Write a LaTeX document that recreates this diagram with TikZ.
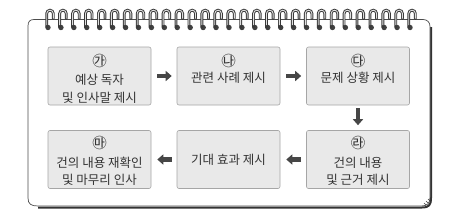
\documentclass[tikz,border=0pt]{standalone}
\usepackage{fontspec}
\setmainfont{Noto Sans CJK KR}
\usetikzlibrary{arrows.meta, positioning}

\begin{document}
\begin{tikzpicture}[x=1pt, y=-1pt,
  stage/.style={draw=gray!70, fill=gray!17, rounded corners=2pt, line width=0.6pt,
    minimum width=103pt, minimum height=58pt},
  caption/.style={align=center, text=black!80, inner sep=0pt, font=\fontsize{12.5}{17.5}\selectfont},
  tag/.style={text=black!80, inner sep=0pt, font=\fontsize{14.5}{15}\selectfont},
  flow/.style={draw=gray!55!black, line width=4.5pt, -{Triangle[length=6pt,width=10pt]}},
  ringline/.style={line width=2.8pt, gray!45!black, line cap=round}]
  \useasboundingbox (0,0) rectangle (452,218);
  % --- notebook page ---
  \draw[line width=2pt, gray!40!black] (431,27) -- (431,198) .. controls (431,205) and (429,207.5) .. (422,207.5) -- (38,207.5);
  \draw[line width=0.7pt, gray!60!black, fill=white] (28,198) -- (28,26) .. controls (28,21.5) and (30,19.5) .. (34,19.5)
    -- (423,19.5) .. controls (427,19.5) and (430,22) .. (430,26.5) -- (430,197)
    .. controls (430,203.5) and (427.5,206) .. (421,206) -- (38,206) .. controls (31,206) and (28,204) .. (28,198);
  % page curl
  \foreach \d in {0,2,4}
    \draw[gray!50!black, line width=0.5pt] (428-\d,199+\d) -- (430-\d,201+\d);
  % --- spiral rings ---
  \foreach \i in {0,...,28}{
    \pgfmathsetmacro\cx{48+12.93*\i}
    \fill[black!75] (\cx,27.5) circle[radius=2.7];
    \draw[ringline] (\cx-1.3,27) -- (\cx-1.3,13.5) arc[start angle=180, end angle=360, radius=3.3] -- (\cx+5.3,18.5);
    \draw[gray!25, line width=0.9pt] (\cx-1.3,25) -- (\cx-1.3,13.5) arc[start angle=180, end angle=360, radius=3.3] -- (\cx+5.3,18.5);
  }
  % --- stages ---
  \node[stage] (s1) at (99.5,76) {};
  \node[stage] (s2) at (228.5,76) {};
  \node[stage] (s3) at (358,76) {};
  \node[stage] (s4) at (358,159.5) {};
  \node[stage] (s5) at (228.5,159.5) {};
  \node[stage] (s6) at (99.5,159.5) {};
  % tags and texts
  \node[tag] (t1) at ([yshift=-14pt]s1.north) {㉮};
  \node[tag] (t2) at ([yshift=-14pt]s2.north) {㉯};
  \node[tag] (t3) at ([yshift=-14pt]s3.north) {㉰};
  \node[tag] (t4) at ([yshift=-13pt]s4.north) {㉱};
  \node[tag] (t6) at ([yshift=-13pt]s6.north) {㉲};
  \node[caption] (c1) at ([yshift=-13pt]s1.center) {예상 독자\\및 인사말 제시};
  \node[caption] (c2) at ([yshift=-1.5pt]s2.center) {관련 사례 제시};
  \node[caption] (c3) at ([yshift=-1.5pt]s3.center) {문제 상황 제시};
  \node[caption] (c4) at ([yshift=-12pt]s4.center) {건의 내용\\및 근거 제시};
  \node[caption] (c5) at (s5.center) {기대 효과 제시};
  \node[caption] (c6) at ([yshift=-12pt]s6.center) {건의 내용 재확인\\및 마무리 인사};
  % --- flow ---
  \draw[flow, shorten <=6pt, shorten >=5pt] (s1) -- (s2);
  \draw[flow, shorten <=6pt, shorten >=5pt] (s2) -- (s3);
  \draw[flow, shorten <=3pt, shorten >=5pt] (s3) -- (s4);
  \draw[flow, shorten <=5pt, shorten >=6pt] (s4) -- (s5);
  \draw[flow, shorten <=5pt, shorten >=6pt] (s5) -- (s6);
\end{tikzpicture}
\end{document}
